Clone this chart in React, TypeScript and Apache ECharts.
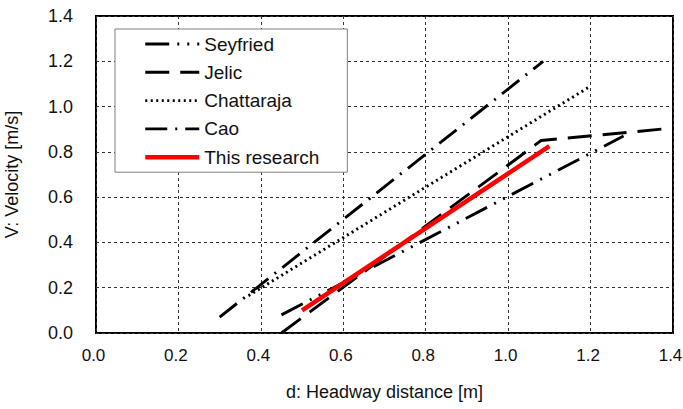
import React, { useEffect, useRef } from "react";
import * as echarts from "echarts";

const seriesNames = ["Seyfried", "Jelic", "Chattaraja", "Cao", "This research"];
const seyfriedX = [0.45, 1.28];
const seyfriedV = [0.08, 0.87];
const jelicX = [0.45, 1.08, 1.4];
const jelicV = [0.0, 0.85, 0.905];
const chattarajaX = [0.37, 1.2];
const chattarajaV = [0.165, 1.09];
const caoX = [0.3, 1.085];
const caoV = [0.07, 1.2];
const researchX = [0.5, 1.1];
const researchV = [0.1, 0.825];

const pairs = (xs: number[], ys: number[]) => xs.map((x, i) => [x, ys[i]]);

const FONT = "'Liberation Sans', Arial, Helvetica, sans-serif";

export default function App() {
  const ref = useRef<HTMLDivElement>(null);
  useEffect(() => {
    if (!ref.current) return;
    const chart = echarts.init(ref.current, null, { renderer: "svg" });
    const black = "#000";
    const mk = (name: string, data: number[][], type: any, color = black, width = 2.9) => ({
      name,
      type: "line",
      data,
      symbol: "none",
      showSymbol: false,
      lineStyle: { color, width, type, cap: "butt" },
      itemStyle: { color },
    });
    chart.setOption({
      animation: false,
      textStyle: { fontFamily: FONT },
      grid: {
        left: 96,
        right: 10,
        top: 16,
        bottom: 76,
        outerBoundsMode: "none",
        containLabel: false,
        show: true,
        borderColor: "#000",
        borderWidth: 2,
        backgroundColor: "#fff",
      },
      legend: {
        orient: "vertical",
        left: 115,
        top: 29,
        padding: [5.5, 28, 5.5, 28],
        itemWidth: 54,
        itemHeight: 14,
        itemGap: 9.3,
        borderColor: "#7f7f7f",
        borderWidth: 1,
        backgroundColor: "#fff",
        data: seriesNames,
        itemStyle: { opacity: 0, borderWidth: 0 },
        lineStyle: { width: "inherit" },
        textStyle: { fontSize: 19, color: "#111", fontFamily: FONT },
      },
      xAxis: {
        type: "value",
        min: 0,
        max: 1.4,
        interval: 0.2,
        name: "d: Headway distance [m]",
        nameLocation: "middle",
        nameGap: 50,
        nameTextStyle: { fontSize: 18, color: "#111", fontFamily: FONT },
        axisLine: { show: false },
        axisTick: { show: false },
        axisLabel: {
          fontSize: 17,
          color: "#111",
          margin: 14,
          padding: [0, 5, 0, 0],
          fontFamily: FONT,
          formatter: (v: number) => v.toFixed(1),
        },
        splitLine: { show: true, lineStyle: { color: "#333", width: 1, type: [3, 3] } },
      },
      yAxis: {
        type: "value",
        min: 0,
        max: 1.4,
        interval: 0.2,
        name: "V: Velocity [m/s]",
        nameLocation: "middle",
        nameGap: 75,
        nameTextStyle: { fontSize: 18, color: "#111", fontFamily: FONT },
        axisLine: { show: false },
        axisTick: { show: false },
        axisLabel: {
          fontSize: 18,
          color: "#111",
          margin: 23,
          fontFamily: FONT,
          formatter: (v: number) => v.toFixed(1),
        },
        splitLine: { show: true, lineStyle: { color: "#333", width: 1, type: [3, 3] } },
      },
      series: [
        mk(seriesNames[0], pairs(seyfriedX, seyfriedV), [24, 8, 2, 8, 2, 8]),
        mk(seriesNames[1], pairs(jelicX, jelicV), [24, 11]),
        mk(seriesNames[2], pairs(chattarajaX, chattarajaV), [2, 3.5]),
        mk(seriesNames[3], pairs(caoX, caoV), [22, 8, 2, 8]),
        mk(seriesNames[4], pairs(researchX, researchV), "solid", "#ff0000", 4.5),
      ],
    });
    return () => chart.dispose();
  }, []);
  return <div ref={ref} style={{ width: 683, height: 409, position: "absolute", left: 0, top: 0 }} />;
}
